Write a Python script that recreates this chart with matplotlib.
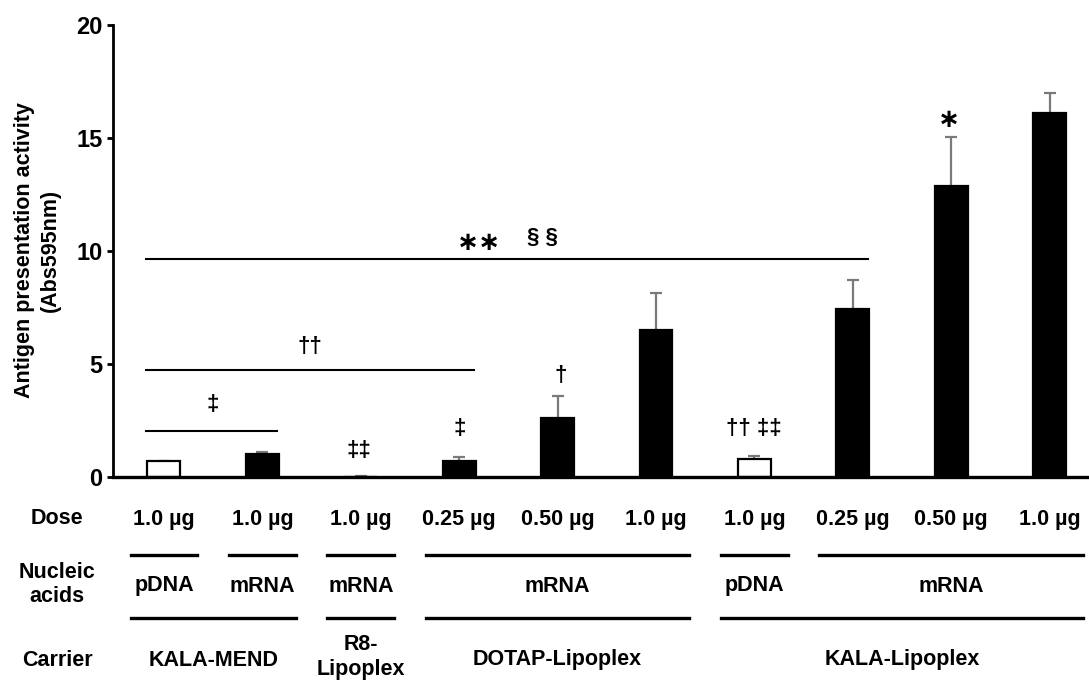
import numpy as np
import matplotlib
matplotlib.use("Agg")
import matplotlib.pyplot as plt
from matplotlib import rcParams
from matplotlib.transforms import blended_transform_factory

rcParams.update({
    "font.family": ["Liberation Sans", "DejaVu Sans"],
    "font.weight": "bold",
    "font.size": 15.5,
})

# ---------------------------------------------------------------------------
# data
# ---------------------------------------------------------------------------
dose_labels = ["1.0 µg", "1.0 µg", "1.0 µg", "0.25 µg", "0.50 µg", "1.0 µg",
               "1.0 µg", "0.25 µg", "0.50 µg", "1.0 µg"]
activity = [0.70, 1.04, 0.03, 0.72, 2.63, 6.50, 0.82, 7.43, 12.86, 16.10]
activity_sd = [0.03, 0.10, 0.01, 0.18, 0.98, 1.67, 0.13, 1.30, 2.18, 0.90]
is_pdna = [True, False, False, False, False, False, True, False, False, False]

# (label, first bar, last bar)
nucleic_groups = [("pDNA", 0, 0), ("mRNA", 1, 1), ("mRNA", 2, 2),
                  ("mRNA", 3, 5), ("pDNA", 6, 6), ("mRNA", 7, 9)]
carrier_groups = [("KALA-MEND", 0, 1), ("R8-\nLipoplex", 2, 2),
                  ("DOTAP-Lipoplex", 3, 5), ("KALA-Lipoplex", 6, 9)]

# significance brackets: (y level, first bar, last bar)
sig_lines = [(9.65, 0, 7), (4.75, 0, 3), (2.05, 0, 1)]
# significance marks: (text, bar position, y)
sig_marks = [("‡", 0.49, 3.2), ("††", 1.48, 5.8), ("‡‡", 1.98, 1.2),
             ("‡", 3.0, 2.15), ("†", 4.03, 4.5), ("†† ‡‡", 5.99, 2.15),
             ("§ §", 3.85, 10.6)]
star_marks = [("∗∗", 3.2, 10.35), ("∗", 7.98, 15.8)]

# ---------------------------------------------------------------------------
W, H = 1089, 681
fig = plt.figure(figsize=(W / 100, H / 100), dpi=100)
y0_px, y20_px, x_left_px = 477.3, 25, 113
ax = fig.add_axes([x_left_px / W, (H - y0_px) / H,
                   (W - x_left_px) / W, (y0_px - y20_px) / H])

x = np.arange(len(activity))
tops = np.array(activity) + np.array(activity_sd)
colors = ["white" if p else "black" for p in is_pdna]
ax.bar(x, activity, width=0.335, color=colors, edgecolor="black",
       linewidth=1.6, zorder=2)
# upper-only error bars with a single cap
ax.vlines(x, activity, tops, color="#7a7a7a", lw=1.6, zorder=1)
ax.plot(x, tops, ls="none", marker="_", ms=8, mew=1.6, color="#7a7a7a",
        zorder=1)

ax.set_xlim(-0.518, 9.40)
ax.set_ylim(0, 20)
ax.set_yticks([0, 5, 10, 15, 20])
ax.set_xticks([])
for s in ["top", "right"]:
    ax.spines[s].set_visible(False)
ax.spines["left"].set_linewidth(2.0)
ax.spines["bottom"].set_linewidth(2.4)
ax.tick_params(axis="y", length=4, width=2.0, pad=3.5, labelsize=17)

# significance lines and symbols
for yv, a, b in sig_lines:
    ax.plot([a - 0.18, b + 0.15], [yv, yv], color="black", lw=1.5,
            clip_on=False)
for txt, xv, yv in sig_marks:
    ax.text(xv, yv, txt, ha="center", va="center", fontsize=16,
            fontweight="bold")
for txt, xv, yv in star_marks:
    ax.text(xv, yv, txt, ha="center", va="center", fontsize=19,
            fontweight="bold", family="DejaVu Sans")

fig.text(37 / W, 1 - 250 / H, "Antigen presentation activity\n(Abs595nm)",
         rotation=90, ha="center", va="center", fontsize=15.5,
         linespacing=1.3)

# table below the axis
tr = blended_transform_factory(ax.transData, fig.transFigure)


def fy(px):
    return 1 - px / H


for xi, lab in zip(x, dose_labels):
    fig.text(xi, fy(520), lab, transform=tr, ha="center", va="center")
for lab, a, b in nucleic_groups:
    fig.lines.append(plt.Line2D([a - 0.34, b + 0.34], [fy(555), fy(555)],
                                transform=tr, color="black", lw=2.4))
    fig.text((a + b) / 2, fy(586), lab, transform=tr, ha="center", va="center")
for lab, a, b in carrier_groups:
    fig.lines.append(plt.Line2D([a - 0.34, b + 0.34], [fy(618), fy(618)],
                                transform=tr, color="black", lw=2.4))
    if "\n" in lab:
        top, bot = lab.split("\n")
        fig.text((a + b) / 2, fy(645), top, transform=tr, ha="center", va="center")
        fig.text((a + b) / 2, fy(669), bot, transform=tr, ha="center", va="center")
    else:
        fig.text((a + b) / 2, fy(660), lab, transform=tr, ha="center", va="center")

fig.text(57 / W, fy(518), "Dose", ha="center", va="center")
fig.text(57 / W, fy(572), "Nucleic", ha="center", va="center")
fig.text(57 / W, fy(597), "acids", ha="center", va="center")
fig.text(57 / W, fy(660), "Carrier", ha="center", va="center")

fig.savefig("out.png", dpi=100)
